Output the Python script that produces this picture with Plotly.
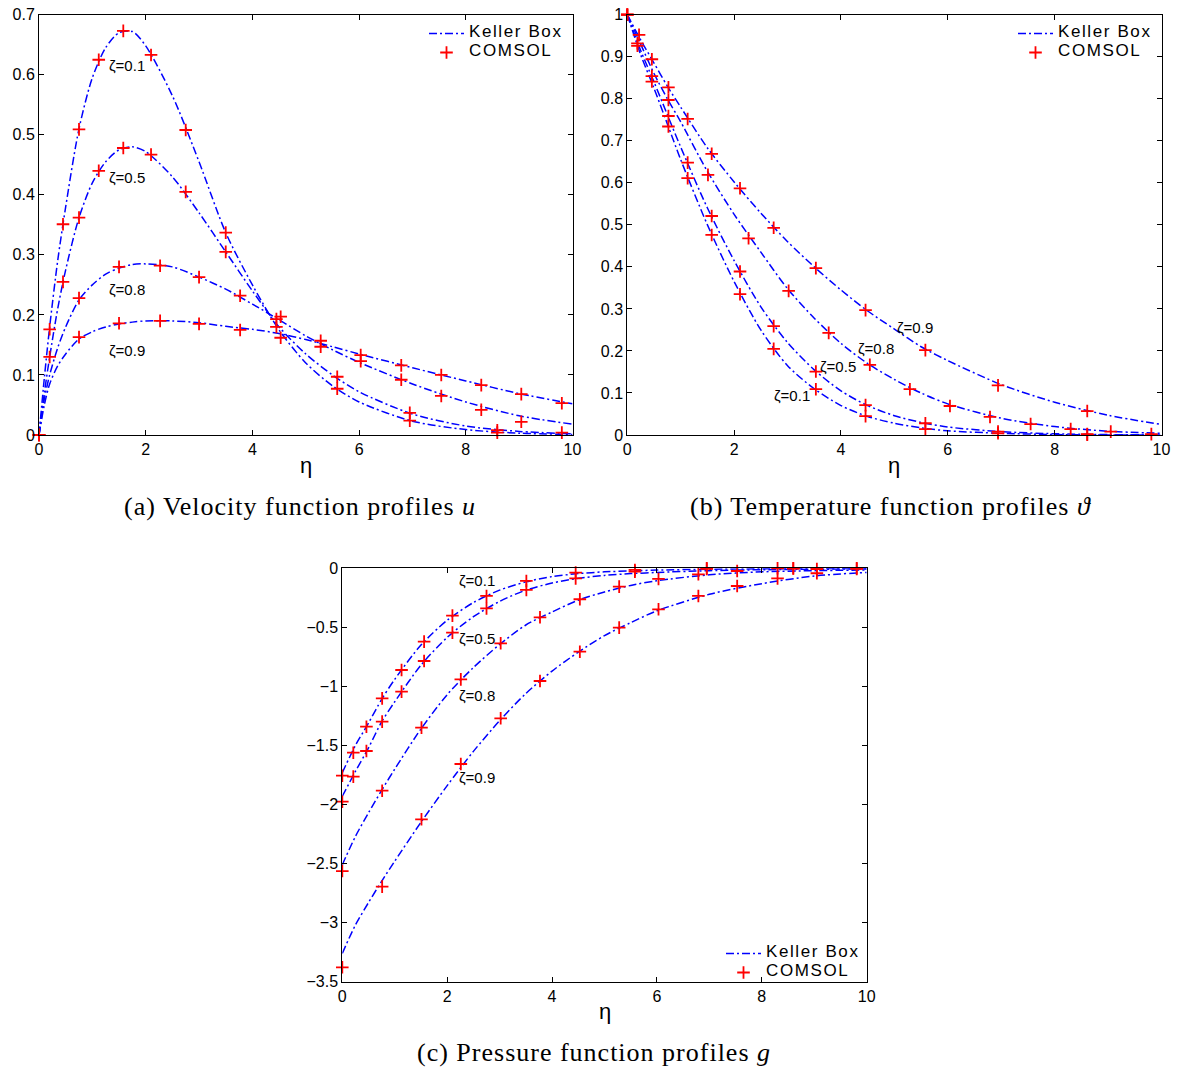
import plotly.graph_objects as go

# ---------------- data: panel (a) velocity u ----------------
eta_a_line = [0, 0.1, 0.2, 0.35, 0.5, 0.75, 1.0, 1.25, 1.5, 1.75, 2.0, 2.5, 3.0, 3.5,
              4.0, 4.5, 5.0, 5.5, 6.0, 7.0, 8.0, 9.0, 10.0]
u_kb_01 = [0, 0.095, 0.18, 0.29, 0.38, 0.51, 0.595, 0.645, 0.670, 0.672, 0.648, 0.565, 0.455,
           0.337, 0.25, 0.175, 0.12, 0.082, 0.055, 0.023, 0.009, 0.003, 0.001]
u_kb_05 = [0, 0.07, 0.13, 0.21, 0.275, 0.362, 0.42, 0.455, 0.475, 0.48, 0.472, 0.43, 0.37,
           0.305, 0.24, 0.18, 0.135, 0.1, 0.072, 0.035, 0.015, 0.006, 0.002]
u_kb_08 = [0, 0.06, 0.1, 0.145, 0.18, 0.225, 0.25, 0.268, 0.278, 0.284, 0.285, 0.28, 0.263,
           0.243, 0.218, 0.192, 0.165, 0.142, 0.121, 0.085, 0.055, 0.032, 0.018]
u_kb_09 = [0, 0.05, 0.085, 0.115, 0.135, 0.16, 0.172, 0.18, 0.185, 0.188, 0.19, 0.19, 0.187,
           0.181, 0.176, 0.169, 0.159, 0.147, 0.135, 0.112, 0.09, 0.069, 0.052]

eta_a_pts_geo = [0, 0.2, 0.45, 0.75, 1.12, 1.58, 2.1, 2.75, 3.5, 4.45, 5.59, 6.95, 8.59]
eta_a_pts_uni = [0, 0.75, 1.5, 2.27, 3.0, 3.77, 4.53, 5.28, 6.03, 6.79, 7.54, 8.29, 9.04, 9.8]
u_cs_01 = [0, 0.176, 0.351, 0.509, 0.625, 0.673, 0.633, 0.508, 0.337, 0.18, 0.077, 0.024, 0.004]
u_cs_05 = [0, 0.13, 0.255, 0.362, 0.44, 0.478, 0.467, 0.405, 0.305, 0.193, 0.097, 0.037, 0.008]
u_cs_08 = [0, 0.228, 0.28, 0.282, 0.263, 0.232, 0.197, 0.147, 0.123, 0.092, 0.065, 0.042, 0.022, 0.004]
u_cs_09 = [0, 0.163, 0.186, 0.19, 0.185, 0.175, 0.162, 0.157, 0.133, 0.116, 0.1, 0.083, 0.068, 0.053]

# ---------------- data: panel (b) temperature theta ----------------
eta_b_line = [0, 0.25, 0.5, 0.75, 1.0, 1.5, 2.0, 2.5, 3.0, 3.5, 4.0, 4.5, 5.0, 5.5, 6.0,
              7.0, 8.0, 9.0, 10.0]
th_kb_09 = [1, 0.94, 0.885, 0.83, 0.78, 0.683, 0.602, 0.528, 0.46, 0.4, 0.345, 0.295, 0.252,
            0.21, 0.177, 0.12, 0.078, 0.047, 0.025]
th_kb_08 = [1, 0.93, 0.86, 0.8, 0.745, 0.627, 0.525, 0.435, 0.348, 0.278, 0.218, 0.17, 0.132,
            0.1, 0.074, 0.04, 0.02, 0.009, 0.004]
th_kb_05 = [1, 0.915, 0.84, 0.762, 0.685, 0.54, 0.415, 0.305, 0.22, 0.155, 0.105, 0.07, 0.046,
            0.03, 0.019, 0.008, 0.003, 0.001, 0.0]
th_kb_01 = [1, 0.905, 0.825, 0.74, 0.655, 0.5, 0.365, 0.25, 0.165, 0.11, 0.07, 0.044, 0.028,
            0.017, 0.01, 0.004, 0.001, 0.0, 0.0]

eta_b_pts_09 = [0, 0.22, 0.46, 0.77, 1.13, 1.58, 2.11, 2.74, 3.53, 4.46, 5.58, 6.94, 8.61]
eta_b_pts_geo = [0, 0.19, 0.46, 0.77, 1.13, 1.58, 2.11, 2.74, 3.53, 4.46, 5.58, 6.94, 8.61]
eta_b_pts_uni = [0, 0.77, 1.51, 2.27, 3.02, 3.77, 4.54, 5.29, 6.04, 6.79, 7.55, 8.30, 9.05, 9.81]
th_cs_09 = [1.0, 0.952, 0.894, 0.827, 0.752, 0.669, 0.587, 0.493, 0.397, 0.297, 0.202, 0.118, 0.057]
th_cs_08 = [1.0, 0.797, 0.619, 0.468, 0.343, 0.243, 0.167, 0.109, 0.069, 0.043, 0.026, 0.014, 0.008, 0.002]
th_cs_05 = [1.0, 0.932, 0.854, 0.759, 0.648, 0.521, 0.389, 0.259, 0.151, 0.071, 0.028, 0.008, 0.002]
th_cs_01 = [1.0, 0.926, 0.841, 0.734, 0.611, 0.476, 0.335, 0.205, 0.109, 0.045, 0.014, 0.004, 0.001]

# ---------------- data: panel (c) pressure g ----------------
eta_c_line = [0, 0.25, 0.5, 0.75, 1.0, 1.5, 2.0, 2.5, 3.0, 3.5, 4.0, 4.5, 5.0, 5.5, 6.0,
              7.0, 8.0, 9.0, 10.0]
g_kb_01 = [-1.73, -1.5, -1.31, -1.11, -0.94, -0.65, -0.44, -0.29, -0.185, -0.115, -0.07,
           -0.045, -0.03, -0.022, -0.015, -0.008, -0.004, -0.002, -0.001]
g_kb_05 = [-1.93, -1.72, -1.52, -1.3, -1.13, -0.82, -0.585, -0.41, -0.28, -0.185, -0.125,
           -0.085, -0.06, -0.045, -0.035, -0.02, -0.012, -0.008, -0.005]
g_kb_08 = [-2.51, -2.27, -2.07, -1.88, -1.7, -1.36, -1.07, -0.84, -0.645, -0.48, -0.37,
           -0.27, -0.2, -0.145, -0.105, -0.055, -0.03, -0.02, -0.014]
g_kb_09 = [-3.26, -3.02, -2.83, -2.65, -2.48, -2.15, -1.84, -1.55, -1.29, -1.06, -0.87,
           -0.71, -0.57, -0.46, -0.36, -0.22, -0.13, -0.065, -0.035]

eta_c_pts_geo = [0, 0.21, 0.46, 0.76, 1.13, 1.56, 2.10, 2.75, 3.51, 4.45, 5.58, 6.95, 8.60]
eta_c_pts_uni = [0, 0.76, 1.51, 2.26, 3.02, 3.77, 4.53, 5.28, 6.03, 6.79, 7.53, 8.30, 9.05, 9.81]
g_cs_01 = [-1.756, -1.561, -1.341, -1.101, -0.861, -0.621, -0.401, -0.234, -0.107, -0.037, -0.014, 0.0, 0.0]
g_cs_05 = [-1.976, -1.764, -1.547, -1.298, -1.044, -0.785, -0.545, -0.339, -0.183, -0.085, -0.028, -0.005, -0.002]
g_cs_08 = [-2.563, -1.883, -1.349, -0.94, -0.635, -0.415, -0.262, -0.155, -0.09, -0.051, -0.023, 0.0, -0.006, 0.0]
g_cs_09 = [-3.378, -2.695, -2.125, -1.657, -1.27, -0.954, -0.706, -0.502, -0.347, -0.234, -0.15, -0.085, -0.042, -0.005]

# curve labels (text, x, y) per panel
labels_a = [("ζ=0.1", 1.65, 0.616), ("ζ=0.5", 1.65, 0.429), ("ζ=0.8", 1.65, 0.243), ("ζ=0.9", 1.65, 0.141)]
labels_b = [("ζ=0.9", 5.39, 0.255), ("ζ=0.8", 4.66, 0.207), ("ζ=0.5", 3.95, 0.164), ("ζ=0.1", 3.09, 0.095)]
labels_c = [("ζ=0.1", 2.56, -0.107), ("ζ=0.5", 2.56, -0.593), ("ζ=0.8", 2.56, -1.08), ("ζ=0.9", 2.56, -1.773)]

captions = ["(a) Velocity function profiles <i>u</i>",
            "(b) Temperature function profiles <i>ϑ</i>",
            "(c) Pressure function profiles <i>g</i>"]

# ---------------- figure ----------------
W, H = 1188, 1070
BLUE = "rgb(0,0,255)"
RED = "rgb(255,0,0)"
DASH = "8px,3px,2px,3px"
SANS = "Liberation Sans"
SERIF = "Liberation Serif"
LEG_STYLE = "font-size:17px;letter-spacing:1.6px"
CAP_STYLE = "letter-spacing:1px"

fig = go.Figure()

panels = [
    ("x", "y", "legend", eta_a_line, [u_kb_01, u_kb_05, u_kb_08, u_kb_09],
     [(eta_a_pts_geo, u_cs_01), (eta_a_pts_geo, u_cs_05), (eta_a_pts_uni, u_cs_08), (eta_a_pts_uni, u_cs_09)]),
    ("x2", "y2", "legend2", eta_b_line, [th_kb_01, th_kb_05, th_kb_08, th_kb_09],
     [(eta_b_pts_geo, th_cs_01), (eta_b_pts_geo, th_cs_05), (eta_b_pts_uni, th_cs_08), (eta_b_pts_09, th_cs_09)]),
    ("x3", "y3", "legend3", eta_c_line, [g_kb_01, g_kb_05, g_kb_08, g_kb_09],
     [(eta_c_pts_geo, g_cs_01), (eta_c_pts_geo, g_cs_05), (eta_c_pts_uni, g_cs_08), (eta_c_pts_uni, g_cs_09)]),
]

for xa, ya, lg, xl, lines, pts in panels:
    for i, yl in enumerate(lines):
        fig.add_trace(go.Scatter(
            x=xl, y=yl, mode="lines", xaxis=xa, yaxis=ya, legend=lg,
            name=f"<span style='{LEG_STYLE}'>Keller Box</span>", showlegend=(i == 0),
            line=dict(color=BLUE, width=1.5, dash=DASH, shape="spline", smoothing=0.8),
        ))
    for i, (px, py) in enumerate(pts):
        fig.add_trace(go.Scatter(
            x=px, y=py, mode="markers", xaxis=xa, yaxis=ya, legend=lg,
            name=f"<span style='{LEG_STYLE}'>COMSOL</span>", showlegend=(i == 0),
            marker=dict(symbol="cross-thin", size=9, color=RED, line=dict(color=RED, width=1.8)),
            cliponaxis=False,
        ))

def axis(domain, rng, dtick, anchor):
    return dict(domain=domain, range=rng, dtick=dtick, tick0=0, anchor=anchor,
                showline=True, linecolor="black", linewidth=1, mirror="ticks",
                ticks="inside", ticklen=5, tickwidth=1, tickcolor="black",
                showgrid=False, zeroline=False, automargin=False,
                tickfont=dict(family=SANS, size=16, color="black"))

def px_dom(a, b, total, flip=False):
    if flip:
        return [1 - b / total, 1 - a / total]
    return [a / total, b / total]

fig.update_layout(
    width=W, height=H, margin=dict(l=0, r=0, t=0, b=0),
    paper_bgcolor="white", plot_bgcolor="white",
    xaxis=axis(px_dom(39, 572.5, W), [0, 10], 2, "y"),
    yaxis=axis(px_dom(14.7, 435, H, True), [0, 0.7], 0.1, "x"),
    xaxis2=axis(px_dom(627.3, 1161.5, W), [0, 10], 2, "y2"),
    yaxis2=axis(px_dom(14.7, 435, H, True), [0, 1], 0.1, "x2"),
    xaxis3=axis(px_dom(342.3, 866.7, W), [0, 10], 2, "y3"),
    yaxis3=axis(px_dom(568.3, 981.7, H, True), [-3.5, 0], 0.5, "x3"),
    showlegend=True,
)

leg_common = dict(bgcolor="rgba(0,0,0,0)", borderwidth=0, itemwidth=35,
                  font=dict(family=SANS, size=10, color="black"),
                  xanchor="left", yanchor="top", tracegroupgap=0)
fig.update_layout(
    legend=dict(x=424 / W, y=1 - 19 / H, **leg_common),
    legend2=dict(x=1013 / W, y=1 - 19 / H, **leg_common),
    legend3=dict(x=721 / W, y=1 - 939 / H, **leg_common),
)

annots = []
for lbls, xr, yr in [(labels_a, "x", "y"), (labels_b, "x2", "y2"), (labels_c, "x3", "y3")]:
    for t, x, y in lbls:
        annots.append(dict(text=t, x=x, y=y, xref=xr, yref=yr, showarrow=False,
                           xanchor="center", yanchor="middle",
                           font=dict(family=SANS, size=15, color="black")))

# axis titles (eta)
for cx, cy in [(305.5, 465), (894.4, 465), (604.5, 1011)]:
    annots.append(dict(text="η", x=cx / W, y=1 - cy / H, xref="paper", yref="paper",
                       xanchor="center", yanchor="middle", showarrow=False,
                       font=dict(family=SANS, size=22, color="black")))

for t, (cx, cy) in zip(captions, [(300, 506), (890, 506), (594, 1052)]):
    annots.append(dict(text=f"<span style='{CAP_STYLE}'>{t}</span>", x=cx / W, y=1 - cy / H,
                       xref="paper", yref="paper",
                       xanchor="center", yanchor="middle", showarrow=False,
                       font=dict(family=SERIF, size=26, color="black")))

fig.update_layout(annotations=annots)
fig.write_html("out.html")
